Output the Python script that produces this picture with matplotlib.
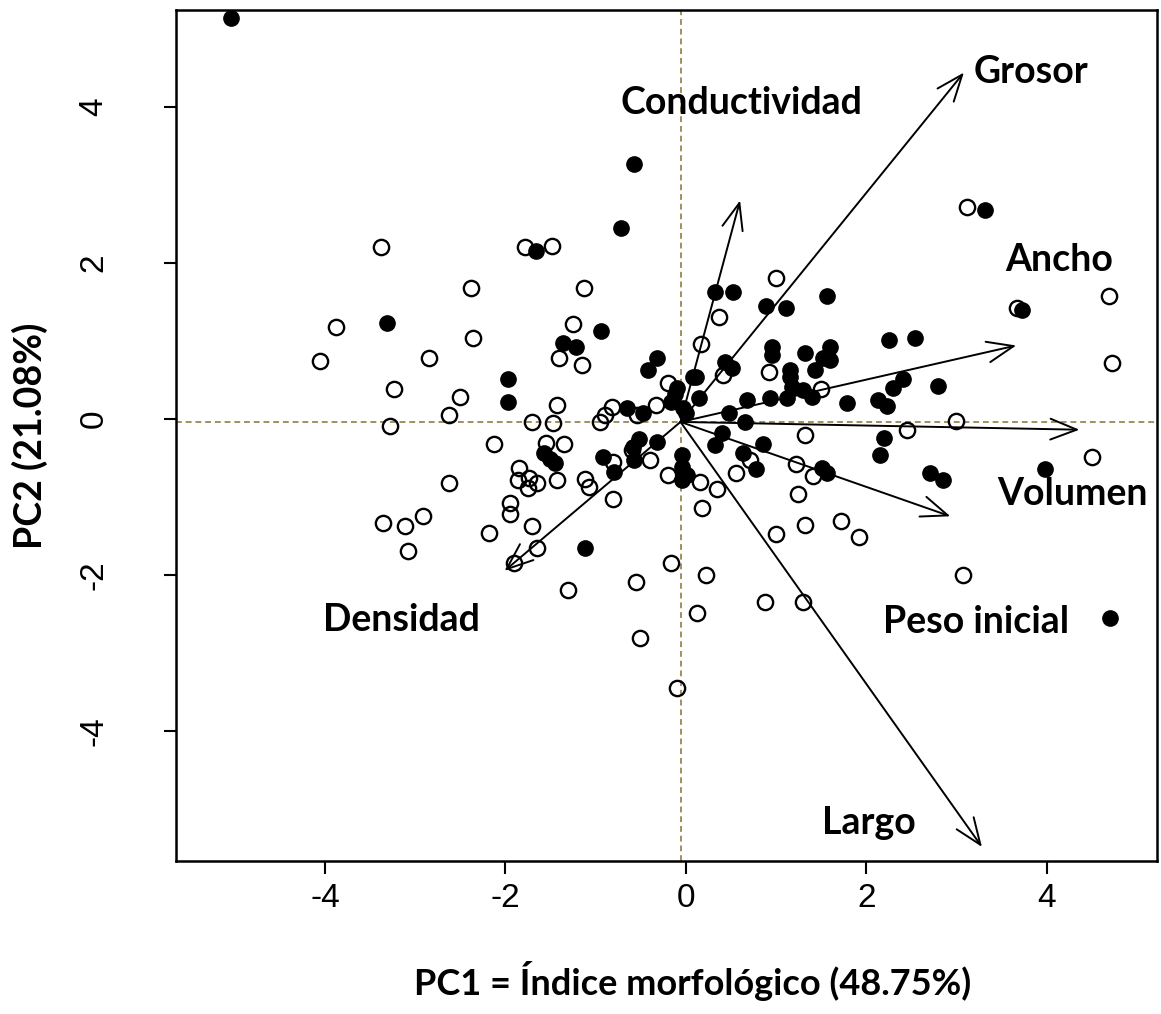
import matplotlib
matplotlib.use("Agg")
import matplotlib.pyplot as plt
import numpy as np

plt.rcParams["axes.unicode_minus"] = False

# ============================
# PCA scores (two groups) and loadings
# ============================
open_x = [-3.38, -2.38, -1.78, -1.48, -1.13, 1.00, 3.11, 4.69, -3.88, -4.06,
          -2.85, -3.24, -2.50, -2.63, -3.28, -2.63, -2.36, -1.25, -1.41, -1.15,
          -1.43, -1.71, -1.47, -0.20, 0.17, -0.33, -0.82, -0.90, -0.95, -0.54,
          -2.13, -1.55, -1.35, -1.85, -1.86, -1.74, -1.65, -1.75, -1.43, -1.95,
          -1.12, -1.07, -0.81, -0.81, -0.60, -0.40, -0.20, 0.37, 0.41, 0.92,
          1.50, 1.32, 2.45, 0.71, 0.56, 1.22, 1.41, 0.16, 0.34, 1.24,
          0.18, 3.67, 4.72, 2.99, 4.50, -3.36, -3.11, -2.91, -3.08, -1.95,
          -2.18, -1.71, -1.65, -1.91, -1.31, -0.16, -0.55, -0.51, -0.10, 0.12,
          1.00, 1.32, 1.72, 1.92, 0.22, 0.88, 1.30, 3.07]
open_y = [2.20, 1.68, 2.20, 2.22, 1.68, 1.81, 2.72, 1.57, 1.18, 0.74,
          0.78, 0.38, 0.28, 0.05, -0.09, -0.82, 1.04, 1.22, 0.78, 0.69,
          0.18, -0.04, -0.06, 0.46, 0.96, 0.18, 0.15, 0.05, -0.04, 0.05,
          -0.32, -0.31, -0.32, -0.63, -0.78, -0.76, -0.82, -0.89, -0.78, -1.08,
          -0.77, -0.87, -0.55, -1.03, -0.40, -0.53, -0.72, 1.31, 0.56, 0.60,
          0.38, -0.21, -0.14, -0.53, -0.69, -0.58, -0.73, -0.81, -0.90, -0.97,
          -1.15, 1.42, 0.72, -0.03, -0.49, -1.33, -1.38, -1.24, -1.69, -1.22,
          -1.47, -1.38, -1.66, -1.85, -2.20, -1.85, -2.09, -2.81, -3.45, -2.49,
          -1.48, -1.36, -1.31, -1.51, -2.00, -2.35, -2.35, -2.00]

filled_x = [-5.04, -0.58, -0.72, -1.66, 0.32, 0.52, 1.56, 3.31, -3.31, -0.94,
            -1.36, -1.22, -1.97, -1.97, -0.42, -0.32, -0.10, -0.16, -0.03, -0.12,
            0.00, 0.08, -0.65, -0.48, -1.57, -1.51, -1.45, -0.92, -0.80, -0.59,
            -0.52, -0.57, -0.32, -0.04, -0.04, -0.04, 0.01, 0.89, 1.11, 2.25,
            2.54, 0.95, 0.95, 1.32, 1.60, 1.52, 1.60, 1.43, 0.43, 0.51,
            1.15, 1.15, 0.11, 1.17, 1.30, 1.40, 2.40, 2.29, 1.78, 2.13,
            2.23, 0.14, 0.68, 0.93, 1.12, 0.48, 0.65, 0.40, 0.32, 0.85,
            2.20, 2.15, 0.63, 0.78, 1.51, 1.56, 3.72, 2.79, 3.98, 2.70,
            2.85, -1.12, 4.70]
filled_y = [5.14, 3.27, 2.45, 2.15, 1.63, 1.63, 1.57, 2.68, 1.23, 1.12,
            0.97, 0.92, 0.51, 0.21, 0.63, 0.78, 0.40, 0.21, 0.14, 0.32,
            0.08, 0.54, 0.14, 0.08, -0.44, -0.51, -0.57, -0.49, -0.68, -0.36,
            -0.26, -0.53, -0.30, -0.46, -0.62, -0.78, -0.72, 1.44, 1.42, 1.01,
            1.04, 0.92, 0.82, 0.84, 0.92, 0.78, 0.76, 0.63, 0.73, 0.65,
            0.63, 0.53, 0.54, 0.41, 0.37, 0.28, 0.51, 0.40, 0.20, 0.24,
            0.16, 0.27, 0.24, 0.27, 0.27, 0.08, -0.04, -0.18, -0.33, -0.32,
            -0.24, -0.46, -0.44, -0.65, -0.63, -0.69, 1.40, 0.42, -0.65, -0.69,
            -0.78, -1.66, -2.55]

variables = ["Grosor", "Conductividad", "Ancho", "Volumen",
             "Peso inicial", "Largo", "Densidad"]
load_x = [3.08, 0.60, 3.66, 4.36, 2.93, 3.28, -2.01]
load_y = [4.44, 2.80, 0.94, -0.14, -1.25, -5.49, -1.95]
label_x = [3.82, 0.61, 4.14, 4.28, 3.22, 2.03, -3.15]
label_y = [4.45, 4.05, 2.04, -0.96, -2.60, -5.18, -2.58]

origin = (-0.06, -0.04)

# ============================
# Plot
# ============================
fig = plt.figure(figsize=(11.61, 10.14), dpi=100)
ax = fig.add_axes([0.1516, 0.1509, 0.845, 0.8391])

guide = "#9e9260"
ax.axhline(origin[1], color=guide, linestyle=(0, (3, 2)), linewidth=1.4, zorder=1)
ax.axvline(origin[0], color=guide, linestyle=(0, (3, 2)), linewidth=1.4, zorder=1)

ax.plot(open_x, open_y, "o", markersize=11, markerfacecolor="none",
        markeredgecolor="black", markeredgewidth=1.7, zorder=2)
ax.plot(filled_x, filled_y, "o", markersize=11, markerfacecolor="black",
        markeredgecolor="black", markeredgewidth=1.0, zorder=3)

# Loading arrows
for vx, vy in zip(load_x, load_y):
    ax.annotate("", xy=(vx, vy), xytext=origin,
                arrowprops=dict(arrowstyle="->,head_length=1.9,head_width=0.75",
                                color="black", lw=1.4, shrinkA=0, shrinkB=0),
                zorder=4)

for name, lx, ly in zip(variables, label_x, label_y):
    ax.text(lx, ly, name, ha="center", va="center", fontsize=27,
            fontweight="bold", family="Lato", zorder=5)

ax.set_xlim(-5.65, 5.22)
ax.set_ylim(-5.67, 5.24)
ax.set_xticks([-4, -2, 0, 2, 4])
ax.set_yticks([-4, -2, 0, 2, 4])
ax.tick_params(length=9, width=1.5, labelsize=24)
ax.tick_params(axis="x", pad=7)
ax.tick_params(axis="y", pad=50)
for lab in ax.get_xticklabels() + ax.get_yticklabels():
    lab.set_family("Liberation Sans")
for lab in ax.get_yticklabels():
    lab.set_rotation(90)
    lab.set_va("center")
    lab.set_ha("center")
for side in ax.spines.values():
    side.set_linewidth(1.8)

ax.set_xlabel("PC1 = Índice morfológico (48.75%)", fontsize=26,
              fontweight="bold", family="Lato", labelpad=34)
ax.xaxis.label.set_x(0.527)
ax.set_ylabel("PC2 (21.08%)", fontsize=27, fontweight="bold",
              family="Lato", labelpad=22)

fig.savefig("out.png", dpi=100)
